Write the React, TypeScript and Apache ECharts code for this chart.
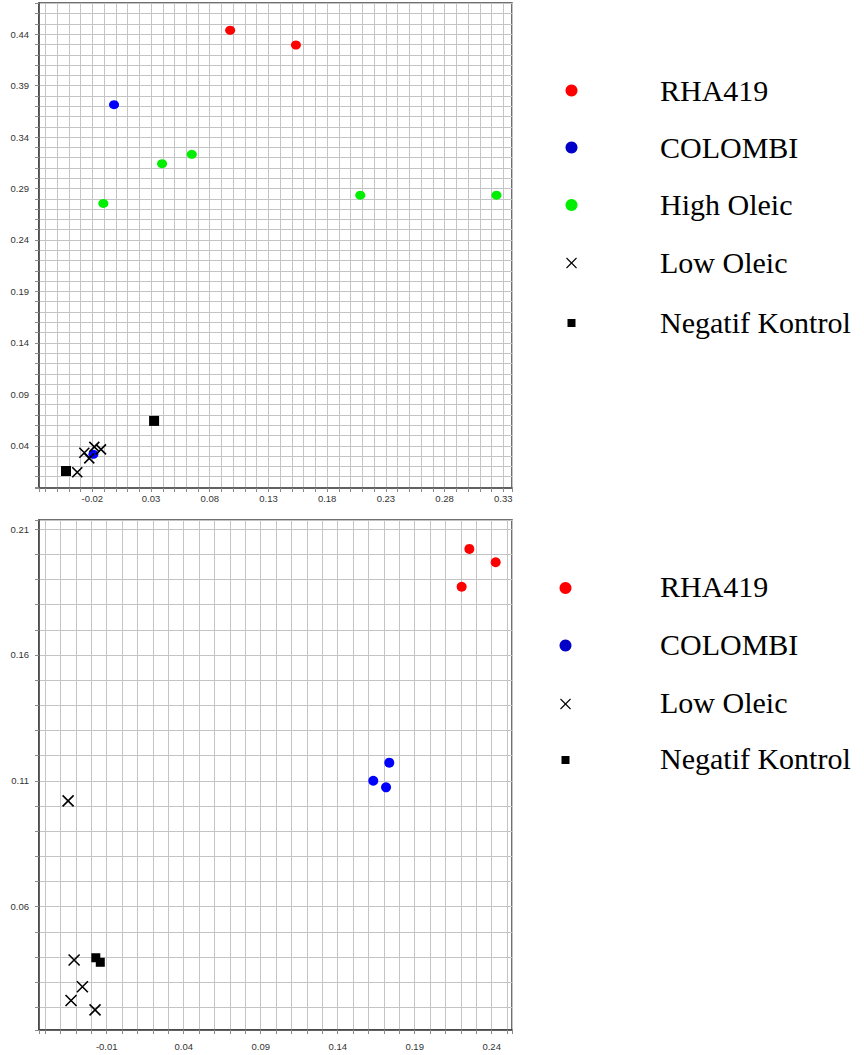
import React, { useEffect, useRef } from "react";
import * as echarts from "echarts";

// ---------- data (upper plot) ----------
const topRHA419 = [
  [0.0974, 0.4438],
  [0.1534, 0.4295],
];
const topColombi = [
  [-0.0015, 0.3715],
  [-0.0191, 0.0317],
];
const topHighOleic = [
  [-0.0106, 0.2755],
  [0.0394, 0.3142],
  [0.0647, 0.3233],
  [0.2082, 0.2836],
  [0.3242, 0.2836],
];
const topLowOleic = [
  [-0.0183, 0.039],
  [-0.0126, 0.0365],
  [-0.0268, 0.0332],
  [-0.0226, 0.0278],
  [-0.0328, 0.0143],
];
const topNegatif = [
  [-0.0424, 0.0155],
  [0.0326, 0.0642],
];

// ---------- data (lower plot) ----------
const bottomRHA419 = [
  [0.2255, 0.2021],
  [0.2426, 0.1968],
  [0.2205, 0.1871],
];
const bottomColombi = [
  [0.1735, 0.1172],
  [0.1631, 0.11],
  [0.1714, 0.1074],
];
const bottomLowOleic = [
  [-0.0351, 0.102],
  [-0.0312, 0.0388],
  [-0.0258, 0.0282],
  [-0.0332, 0.0227],
  [-0.0176, 0.019],
];
const bottomNegatif = [
  [-0.0171, 0.0397],
  [-0.0142, 0.0379],
];

// ---------- axes / labels ----------
const topXRange = [-0.0654, 0.3374];
const topYRange = [-0.001, 0.4703];
const bottomXRange = [-0.054, 0.2532];
const bottomYRange = [0.011, 0.2136];
const topXLabelAnchor = -0.02;
const topYLabelAnchor = 0.04;
const bottomXLabelAnchor = -0.01;
const bottomYLabelAnchor = 0.01;
const labelStep = 0.05;
const gridStep = 0.01;

const topLegendNames = ["RHA419", "COLOMBI", "High Oleic", "Low Oleic", "Negatif Kontrol"];
const bottomLegendNames = ["RHA419", "COLOMBI", "Low Oleic", "Negatif Kontrol"];

const RED = "#ff0000";
const BLUE = "#0000ff";
const GREEN = "#00ee00";
const BLACK = "#000000";
const CROSS = "path://M0,0L10,10M10,0L0,10";

const labelFormatter = (anchor: number) => (v: number) => {
  const k = (v - anchor) / labelStep;
  return Math.abs(k - Math.round(k)) < 1e-6 ? v.toFixed(2) : "";
};

const makeAxis = (range: number[], anchor: number, margin: number, gridIndex: number) => ({
  type: "value",
  gridIndex,
  min: range[0],
  max: range[1],
  splitNumber: Math.round((range[1] - range[0]) / gridStep),
  minInterval: gridStep,
  maxInterval: gridStep,
  axisLine: { show: true, onZero: false, lineStyle: { color: "#404040", width: 1.5 } },
  axisTick: { show: true, length: 4, lineStyle: { color: "#8a8a8a", width: 1 } },
  splitLine: { show: true, lineStyle: { color: "#c4c4c4", width: 1 } },
  axisLabel: {
    margin,
    color: "#333",
    fontSize: 9.5,
    fontFamily: "Liberation Sans, Arial, sans-serif",
    showMinLabel: true,
    showMaxLabel: true,
    formatter: labelFormatter(anchor),
  },
});

const circleSeries = (name: string, data: number[][], color: string, x: number, size: any) => ({
  type: "scatter",
  name,
  xAxisIndex: x,
  yAxisIndex: x,
  data,
  symbol: "circle",
  symbolSize: size,
  itemStyle: { color, opacity: 1 },
  emphasis: { disabled: true },
});

const crossSeries = (name: string, data: number[][], x: number, size: number) => ({
  type: "scatter",
  name,
  xAxisIndex: x,
  yAxisIndex: x,
  data,
  symbol: CROSS,
  symbolSize: size,
  itemStyle: { color: "transparent", borderColor: BLACK, borderWidth: 1.6, opacity: 1 },
  emphasis: { disabled: true },
});

const squareSeries = (name: string, data: number[][], x: number, size: number) => ({
  type: "scatter",
  name,
  xAxisIndex: x,
  yAxisIndex: x,
  data,
  symbol: "rect",
  symbolSize: size,
  itemStyle: { color: BLACK, opacity: 1 },
  emphasis: { disabled: true },
});

const legendIcon = (kind: string, color: string, cx: number, cy: number) => {
  if (kind === "circle")
    return { type: "circle", shape: { cx, cy, r: 6 }, style: { fill: color }, z: 10 };
  if (kind === "square")
    return { type: "rect", shape: { x: cx - 4, y: cy - 4, width: 8, height: 8 }, style: { fill: BLACK }, z: 10 };
  return {
    type: "group",
    z: 10,
    children: [
      { type: "line", shape: { x1: cx - 5, y1: cy - 5, x2: cx + 5, y2: cy + 5 }, style: { stroke: BLACK, lineWidth: 1.1 } },
      { type: "line", shape: { x1: cx - 5, y1: cy + 5, x2: cx + 5, y2: cy - 5 }, style: { stroke: BLACK, lineWidth: 1.1 } },
    ],
  };
};

const legendText = (text: string, x: number, y: number) => ({
  type: "text",
  x,
  y,
  z: 10,
  style: {
    text,
    fill: "#000",
    fontSize: 30,
    fontFamily: "Liberation Serif, Times New Roman, serif",
    verticalAlign: "middle",
    align: "left",
  },
});

export default function App() {
  const ref = useRef<HTMLDivElement>(null);

  useEffect(() => {
    document.body.style.margin = "0";
    if (!ref.current) return;
    const chart = echarts.init(ref.current, null, { renderer: "svg" });

    const topKinds = ["circle", "circle", "circle", "cross", "square"];
    const topColors = [RED, "#0000c8", GREEN, BLACK, BLACK];
    const topRows = [90.5, 147.5, 205, 263, 323];
    const bottomKinds = ["circle", "circle", "cross", "square"];
    const bottomColors = [RED, "#0000c8", BLACK, BLACK];
    const bottomRows = [588, 645.5, 704, 760];

    const graphics: any[] = [];
    topLegendNames.forEach((n, i) => {
      graphics.push(legendIcon(topKinds[i], topColors[i], 571.5, topRows[i]));
      graphics.push(legendText(n, 660, topRows[i] - 0.5));
    });
    bottomLegendNames.forEach((n, i) => {
      graphics.push(legendIcon(bottomKinds[i], bottomColors[i], 565.5, bottomRows[i]));
      graphics.push(legendText(n, 660, bottomRows[i] - 1.5));
    });

    chart.setOption({
      animation: false,
      backgroundColor: "#ffffff",
      grid: [
        { left: 39, top: 3, width: 473, height: 485, show: true, backgroundColor: "#fff", borderColor: "#404040", borderWidth: 1.5 },
        { left: 39, top: 520, width: 473, height: 510, show: true, backgroundColor: "#fff", borderColor: "#404040", borderWidth: 1.5 },
      ],
      xAxis: [
        makeAxis(topXRange, topXLabelAnchor, 5, 0),
        makeAxis(bottomXRange, bottomXLabelAnchor, 11, 1),
      ],
      yAxis: [
        makeAxis(topYRange, topYLabelAnchor, 10, 0),
        makeAxis(bottomYRange, bottomYLabelAnchor, 10, 1),
      ],
      series: [
        circleSeries("RHA419", topRHA419, RED, 0, [10, 9]),
        circleSeries("COLOMBI", topColombi, BLUE, 0, [10, 9]),
        circleSeries("High Oleic", topHighOleic, GREEN, 0, [10, 9]),
        crossSeries("Low Oleic", topLowOleic, 0, 10),
        squareSeries("Negatif Kontrol", topNegatif, 0, 10),
        circleSeries("RHA419", bottomRHA419, RED, 1, 10),
        circleSeries("COLOMBI", bottomColombi, BLUE, 1, 10),
        crossSeries("Low Oleic", bottomLowOleic, 1, 11),
        squareSeries("Negatif Kontrol", bottomNegatif, 1, 9),
      ],
      graphic: graphics,
    });

    return () => chart.dispose();
  }, []);

  return (
    <div
      ref={ref}
      style={{ position: "absolute", left: 0, top: 0, width: 864, height: 1055 }}
    />
  );
}
